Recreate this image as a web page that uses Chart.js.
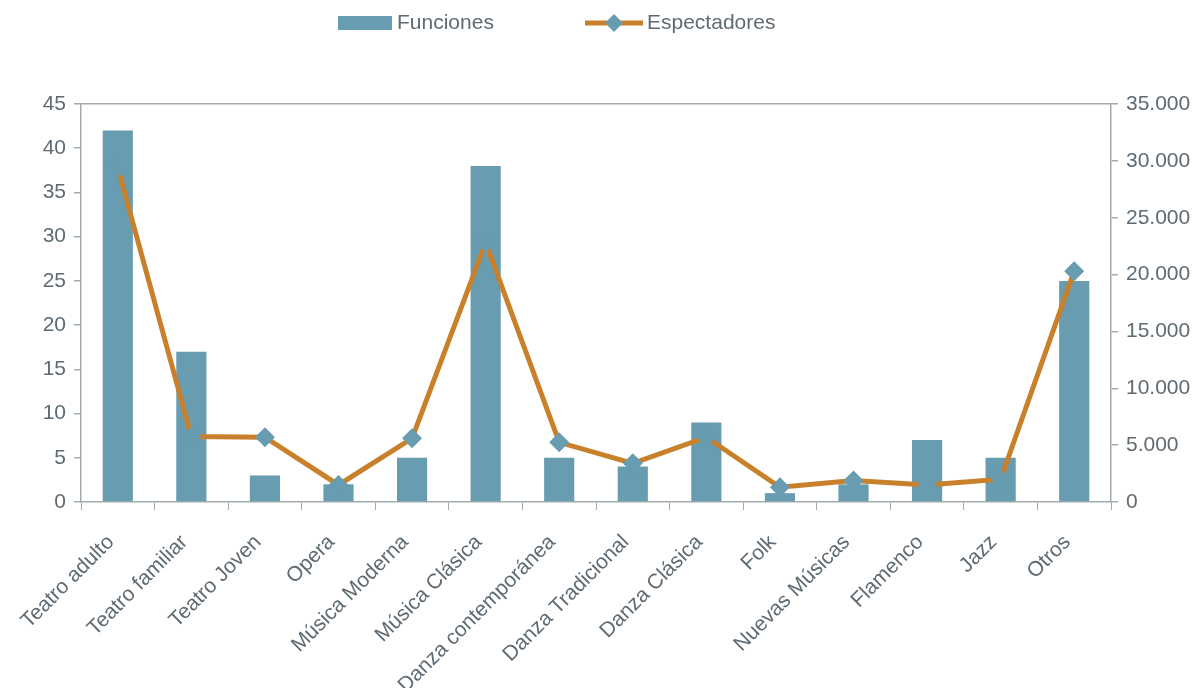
<!DOCTYPE html>
<html>
<head>
<meta charset="utf-8">
<script src="https://cdn.jsdelivr.net/npm/chart.js@4/dist/chart.umd.min.js"></script>
<style>
  html, body { margin: 0; padding: 0; background: #fff; }
  #wrap { width: 1195px; height: 688px; position: relative; }
</style>
</head>
<body>
<div id="wrap"><canvas id="chart"></canvas></div>
<script>
// ─── Data ───
const categories = ['Teatro adulto', 'Teatro familiar', 'Teatro Joven', 'Opera', 'Música Moderna',
    'Música Clásica', 'Danza contemporánea', 'Danza Tradicional', 'Danza Clásica', 'Folk',
    'Nuevas Músicas', 'Flamenco', 'Jazz', 'Otros'];
const funciones = [42, 17, 3, 2, 5, 38, 5, 4, 9, 1, 2, 7, 5, 25];
const espectadores = [29400, 5750, 5700, 1500, 5600, 22800, 5250, 3400, 5700, 1300, 1900, 1500, 2000, 20300];
const leftTicks = [0, 5, 10, 15, 20, 25, 30, 35, 40, 45];
const rightTicks = [0, 5000, 10000, 15000, 20000, 25000, 30000, 35000];

const barColor = '#689cb0';
const lineColor = '#c8802a';
const textColor = '#5f6b73';
const axisColor = '#a2acac';
const fontFamily = "'Liberation Sans', Arial, sans-serif";

const fmtThousands = (v) => String(v).replace(/\B(?=(\d{3})+(?!\d))/g, '.');

// Legend drawn on the canvas (bar swatch + line with diamond)
const customLegend = {
    id: 'customLegend',
    afterDraw(chart) {
        const ctx = chart.ctx;
        const [bars, line] = [chart.data.datasets[1], chart.data.datasets[0]];
        const y = 23;
        ctx.save();
        ctx.font = `21px ${fontFamily}`;
        ctx.textBaseline = 'middle';
        ctx.fillStyle = textColor;

        let x = 338;
        ctx.fillStyle = bars.backgroundColor;
        ctx.fillRect(x, y - 7, 54, 14);
        ctx.fillStyle = textColor;
        ctx.fillText(bars.label, x + 59, y);

        x = 585;
        ctx.strokeStyle = line.borderColor;
        ctx.lineWidth = 5;
        ctx.beginPath();
        ctx.moveTo(x, y);
        ctx.lineTo(x + 58, y);
        ctx.stroke();
        ctx.fillStyle = line.pointBackgroundColor;
        ctx.beginPath();
        ctx.moveTo(x + 29, y - 9);
        ctx.lineTo(x + 38, y);
        ctx.lineTo(x + 29, y + 9);
        ctx.lineTo(x + 20, y);
        ctx.closePath();
        ctx.fill();
        ctx.fillStyle = textColor;
        ctx.fillText(line.label, x + 62, y);
        ctx.restore();
    }
};

new Chart(document.getElementById('chart'), {
    type: 'bar',
    data: {
        labels: categories,
        datasets: [{
            type: 'line',
            label: 'Espectadores',
            data: espectadores,
            yAxisID: 'y1',
            order: 1,
            borderColor: lineColor,
            borderWidth: 5,
            tension: 0,
            pointStyle: 'rectRot',
            pointRadius: 10,
            pointHoverRadius: 10,
            pointBackgroundColor: barColor,
            pointBorderWidth: 0
        }, {
            type: 'bar',
            label: 'Funciones',
            data: funciones,
            yAxisID: 'y',
            order: 2,
            backgroundColor: barColor,
            categoryPercentage: 1,
            barPercentage: 0.41
        }]
    },
    options: {
        responsive: true,
        maintainAspectRatio: false,
        animation: false,
        layout: { padding: { top: 104, left: 0, right: 0, bottom: 0 } },
        plugins: {
            legend: { display: false },
            tooltip: { enabled: false }
        },
        scales: {
            x: {
                offset: true,
                grid: {
                    offset: true,
                    drawOnChartArea: false,
                    color: axisColor,
                    tickLength: 8
                },
                border: { display: true, color: axisColor, width: 1.5 },
                ticks: {
                    color: textColor,
                    minRotation: 45,
                    maxRotation: 45,
                    padding: 20,
                    labelOffset: -7,
                    font: { family: fontFamily, size: 21 }
                },
                afterFit: (scale) => { scale.height = 186; }
            },
            y: {
                position: 'left',
                min: 0,
                max: 45,
                afterBuildTicks: (scale) => { scale.ticks = leftTicks.map(v => ({ value: v })); },
                grid: {
                    color: (c) => (c.tick && c.tick.value === 45 ? axisColor : 'transparent'),
                    tickColor: axisColor,
                    tickLength: 7,
                    lineWidth: 1.5
                },
                border: { display: true, color: axisColor, width: 1.5 },
                ticks: {
                    color: textColor,
                    padding: 8,
                    font: { family: fontFamily, size: 21 }
                },
                afterFit: (scale) => { scale.width = 81; }
            },
            y1: {
                position: 'right',
                min: 0,
                max: 35000,
                afterBuildTicks: (scale) => { scale.ticks = rightTicks.map(v => ({ value: v })); },
                grid: {
                    drawOnChartArea: false,
                    tickColor: axisColor,
                    tickLength: 7,
                    lineWidth: 1.5
                },
                border: { display: true, color: axisColor, width: 1.5 },
                ticks: {
                    color: textColor,
                    padding: 8,
                    font: { family: fontFamily, size: 21 },
                    callback: (v) => fmtThousands(v)
                },
                afterFit: (scale) => { scale.width = 84; }
            }
        }
    },
    plugins: [customLegend]
});
</script>
</body>
</html>
